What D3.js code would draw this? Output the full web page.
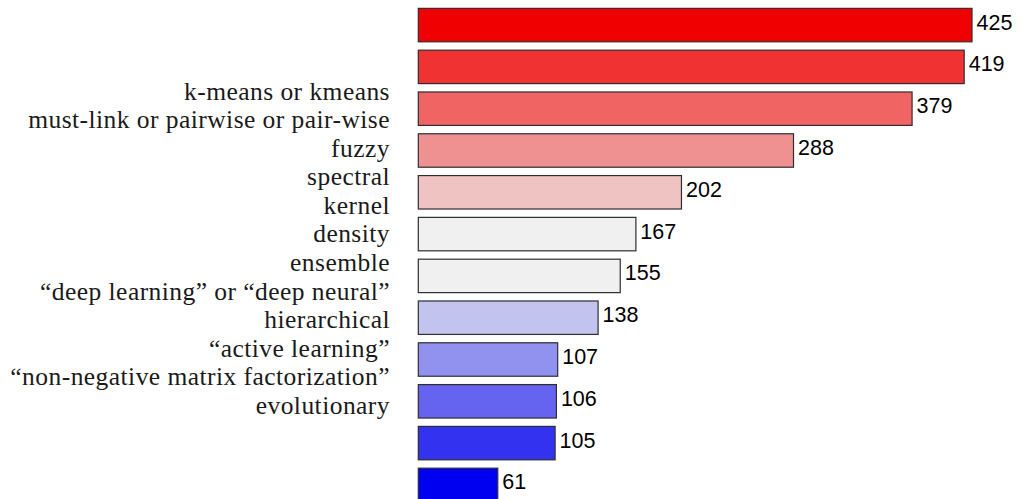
<!DOCTYPE html>
<html>
<head>
<meta charset="utf-8">
<script src="https://cdn.jsdelivr.net/npm/d3@7"></script>
<style>
  html, body { margin: 0; padding: 0; background: #ffffff; }
  svg { display: block; }
</style>
</head>
<body>
<svg id="chart" width="1026" height="499"></svg>
<script>
const categories = [
  "k-means or kmeans",
  "must-link or pairwise or pair-wise",
  "fuzzy",
  "spectral",
  "kernel",
  "density",
  "ensemble",
  "\u201cdeep learning\u201d or \u201cdeep neural\u201d",
  "hierarchical",
  "\u201cactive learning\u201d",
  "\u201cnon-negative matrix factorization\u201d",
  "evolutionary"
];
const counts = [425, 419, 379, 288, 202, 167, 155, 138, 107, 106, 105, 61];
const barColors = [
  "#f00000", "#f03232", "#f06464", "#f09191", "#f0c3c3", "#f0f0f0",
  "#f0f0f0", "#c3c3f0", "#9191f0", "#6464f0", "#3232f0", "#0000f0"
];

const svg = d3.select("#chart");

const x = d3.scaleLinear().domain([0, d3.max(counts)]).range([418.3, 972]);
const y = d3.scaleBand().domain(categories).range([0, 510])
  .paddingInner(0.2).paddingOuter(0.2);
// the category text block is laid out with its own line spacing
const yLabel = d3.scalePoint().domain(categories).range([99.5, 413.8]);

const data = categories.map((c, i) => ({ cat: c, value: counts[i], color: barColors[i] }));

svg.append("g").selectAll("rect").data(data).join("rect")
  .attr("x", x(0))
  .attr("y", d => y(d.cat))
  .attr("width", d => x(d.value) - x(0))
  .attr("height", y.bandwidth())
  .attr("fill", d => d.color)
  .attr("stroke", "#2e2e2e")
  .attr("stroke-width", 1.2);

svg.append("g").selectAll("text").data(data).join("text")
  .attr("x", d => x(d.value) + 4.5)
  .attr("y", d => y(d.cat) + y.bandwidth() / 2 + 4.5)
  .attr("font-family", "'Liberation Sans', Arial, sans-serif")
  .attr("font-size", "21.5px")
  .attr("fill", "#000")
  .text(d => d.value);

svg.append("g").selectAll("text").data(categories).join("text")
  .attr("x", 390)
  .attr("y", d => yLabel(d))
  .attr("text-anchor", "end")
  .attr("font-family", "'Liberation Serif', 'Times New Roman', serif")
  .attr("font-size", "25.5px")
  .attr("letter-spacing", "0.45px")
  .attr("fill", "#1a1a1a")
  .text(d => d);
</script>
</body>
</html>
